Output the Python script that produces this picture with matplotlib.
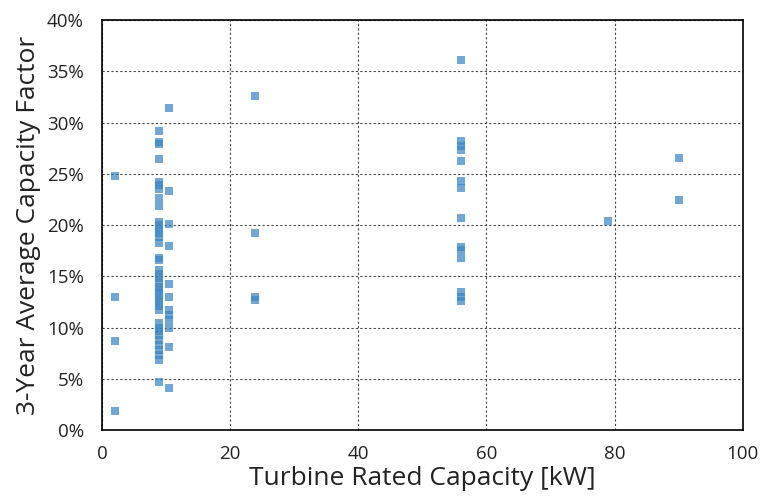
import matplotlib.pyplot as plt
from matplotlib.ticker import PercentFormatter

# turbine rated capacity [kW] and 3-year average capacity factor [%]
cap_2kw = [24.8, 13.0, 8.7, 1.9]
cap_9kw = [29.2, 28.1, 27.9, 26.4, 24.2, 23.9, 23.5, 22.6, 21.9, 20.3, 20.0,
           19.6, 19.2, 18.8, 18.2, 16.8, 16.6, 15.6, 15.2, 14.8, 14.4, 14.0,
           13.7, 13.3, 12.9, 12.5, 12.1, 11.7, 10.4, 10.0, 9.7, 9.3, 8.8,
           8.3, 7.8, 7.3, 6.8, 4.7]
cap_10kw = [31.4, 23.3, 20.1, 18.0, 14.2, 13.0, 11.7, 11.2, 10.7, 10.0, 8.1, 4.1]
cap_24kw = [32.6, 19.2, 13.0, 12.7]
cap_56kw = [36.1, 28.2, 27.7, 27.3, 26.2, 24.3, 23.6, 20.7, 17.9, 17.6, 16.8,
            13.5, 13.0, 12.6]
cap_79kw = [20.4]
cap_90kw = [26.5, 22.4]

groups = [(2, cap_2kw), (8.9, cap_9kw), (10.5, cap_10kw), (23.9, cap_24kw),
          (56, cap_56kw), (79, cap_79kw), (90, cap_90kw)]

xs, ys = [], []
for rated, vals in groups:
    xs += [rated] * len(vals)
    ys += vals

plt.rcParams['font.family'] = ['Open Sans', 'DejaVu Sans']

fig = plt.figure(figsize=(7.61, 5.01), dpi=100)
ax = fig.add_axes([0.134, 0.1417, 0.842, 0.8183])

ax.scatter(xs, ys, marker='s', s=36, color='#3a86c6', alpha=0.72,
           linewidths=0, zorder=3)

ax.set_xlim(0, 100)
ax.set_ylim(0, 40)
ax.set_xticks(range(0, 101, 20))
ax.set_yticks(range(0, 41, 5))
ax.yaxis.set_major_formatter(PercentFormatter(decimals=0))
ax.grid(True, linestyle=(0, (2, 2)), color='#444444', linewidth=0.8)
ax.tick_params(length=0, labelsize=13.5, colors='#222222')
ax.tick_params(axis='y', pad=13)
ax.tick_params(axis='x', pad=11)
for sp in ax.spines.values():
    sp.set_linewidth(1.2)

ax.set_xlabel('Turbine Rated Capacity [kW]', fontsize=19, labelpad=2,
              color='#222222')
ax.set_ylabel('3-Year Average Capacity Factor', fontsize=19, labelpad=4,
              color='#222222')

fig.savefig('out.png', dpi=100)
